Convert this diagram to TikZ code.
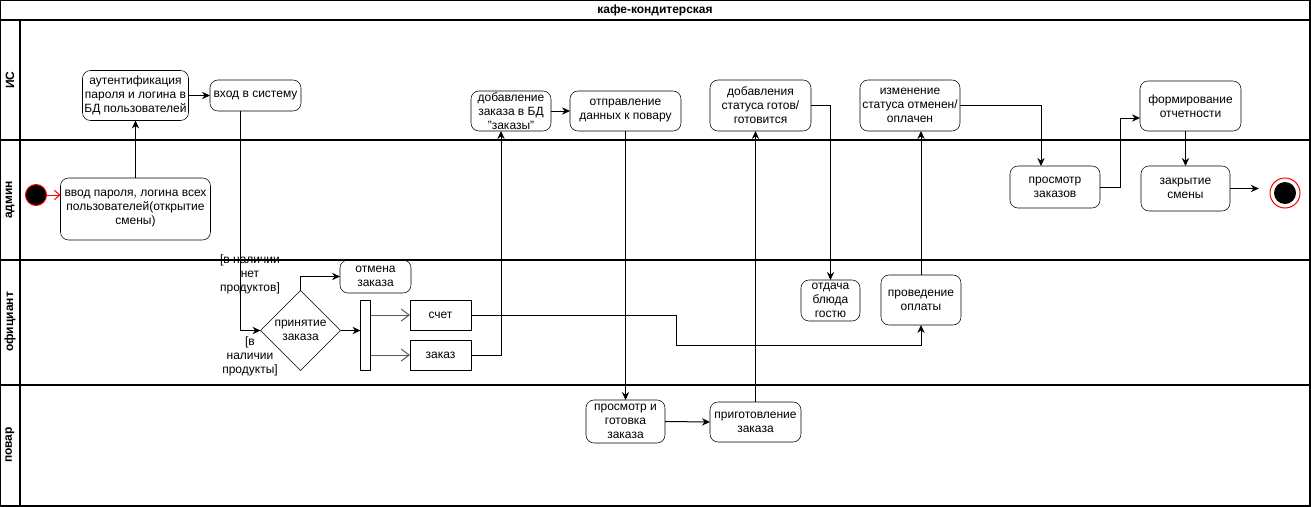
\documentclass[tikz,border=0pt]{standalone}
\usepackage{fontspec}
\setmainfont{Liberation Sans}
\usetikzlibrary{shapes.geometric,arrows.meta,calc}
\begin{document}
\begin{tikzpicture}[x=0.75pt,y=-0.75pt,
  sz/.style 2 args={minimum width=#1*0.75pt,minimum height=#2*0.75pt},
  act/.style={draw,rounded corners=6pt,align=center,inner sep=0pt,outer sep=0pt,font=\fontsize{9}{10.5}\selectfont},
  obj/.style={draw,align=center,inner sep=0pt,outer sep=0pt,font=\fontsize{9}{10.5}\selectfont},
  lane/.style={font=\bfseries\fontsize{9}{10.5}\selectfont,rotate=90},
  guard/.style={align=center,inner sep=0pt,font=\fontsize{9}{10.5}\selectfont},
  flow/.style={line width=0.75pt,-{Stealth[length=6pt,width=5.5pt]}},
  fork/.style={line width=0.75pt,draw=black!65,-{Straight Barb[length=6pt,width=9pt]}}]
\useasboundingbox (0,0) rectangle (1311,507);
% swimlanes
\draw[line width=1pt] (0.5,0.5) rectangle (1310,506);
\draw[line width=1pt] (0.5,20) -- (1310,20);
\draw[line width=1pt] (0.5,140) -- (1310,140);
\draw[line width=1pt] (0.5,260) -- (1310,260);
\draw[line width=1pt] (0.5,385) -- (1310,385);
\draw[line width=1pt] (20,20) -- (20,506);
\node[font=\bfseries\fontsize{9}{10.5}\selectfont] (title) at (655,10) {кафе-кондитерская};
\node[lane] (is) at (10,80) {ИС};
\node[lane] (admin) at (10,200) {админ};
\node[lane] (waiter) at (10,322) {официант};
\node[lane] (cook) at (10,445) {повар};
% nodes
\node[circle,fill=black,draw=red,line width=0.75pt,sz={21}{21}] (start) at (36,195) {};
\node[act,sz={150}{62}] (vvod) at (135.5,209) {ввод пароля, логина всех\\пользователей(открытие\\смены)};
\node[act,sz={106}{50}] (auth) at (135.5,95.5) {аутентификация\\пароля и логина в\\БД пользователей};
\node[act,sz={91}{31}] (vhod) at (255.5,95.5) {вход в систему};
\node[draw,diamond,aspect=1,align=center,inner sep=0pt,outer sep=0pt,sz={80}{80},font=\fontsize{9}{10.5}\selectfont] (dec) at (300.5,330.5) {принятие\\заказа};
\node[act,sz={71}{33}] (otmena) at (375.5,276.5) {отмена\\заказа};
\node[draw,inner sep=0pt,outer sep=0pt,sz={10}{70}] (bar) at (365.5,335) {};
\node[obj,sz={61}{30}] (schet) at (440.5,315) {счет};
\node[obj,sz={61}{30}] (zakaz) at (440.5,355) {заказ};
\node[act,sz={80}{40}] (dobavl) at (511,111) {добавление\\заказа в БД\\"заказы"};
\node[act,sz={111}{40}] (otprav) at (625.5,111) {отправление\\данных к повару};
\node[act,sz={79}{43}] (prosmg) at (625.5,421.5) {просмотр и\\готовка\\заказа};
\node[act,sz={91}{40}] (prigot) at (755.5,422) {приготовление\\заказа};
\node[act,sz={101}{51}] (status) at (760.5,105.5) {добавления\\статуса готов/\\готовится};
\node[act,sz={59}{41}] (otdacha) at (830.5,300.5) {отдача\\блюда\\гостю};
\node[act,sz={80}{50}] (oplata) at (921,300) {проведение\\оплаты};
\node[act,sz={100}{51}] (izmen) at (910,105.5) {изменение\\статуса отменен/\\оплачен};
\node[act,sz={90}{42}] (prosmz) at (1055,187) {просмотр\\заказов};
\node[act,sz={101}{50}] (formir) at (1190.5,106) {формирование\\отчетности};
\node[act,sz={89}{45}] (zakryt) at (1185.5,188.5) {закрытие\\смены};
\node[circle,draw=red,line width=0.75pt,fill=white,sz={30}{30}] (end) at (1285,193) {};
\node[circle,fill=black,sz={22}{22}] (endin) at (end) {};
\node[guard] (noprod) at (250,274) {[в наличии\\нет\\продуктов]};
\node[guard] (prod) at (250,356) {[в\\наличии\\продукты]};
\coordinate (bend) at (676,345);
% connectors
\draw[red,line width=0.75pt,-{Straight Barb[length=4pt,width=7pt]}] (start.east) -- (vvod.west |- start.east);
\draw[flow] (vvod.north) -- (auth.south);
\draw[flow] (auth.east) -- (vhod.west);
\draw[flow] ($(vhod.south)+(-15,0)$) |- (dec.west);
\draw[flow] (dec.north) |- (otmena.west);
\draw[flow] (dec.east) -- (bar.west |- dec.east);
\draw[fork] (bar.east |- schet) -- (schet.west);
\draw[fork] (bar.east |- zakaz) -- (zakaz.west);
\draw[flow] (zakaz.east) -| ($(dobavl.south)+(-10,0)$);
\draw[flow] (dobavl.east) -- (otprav.west);
\draw[flow] (otprav.south) -- (prosmg.north);
\draw[flow] (prosmg.east) -- (prigot.west);
\draw[flow] (prigot.north) -- (prigot.north |- status.south);
\draw[flow] (status.east) -| (otdacha.north);
\draw[flow] (schet.east) -| (bend) -| (oplata.south);
\draw[flow] (oplata.north) -- (oplata.north |- izmen.south);
\draw[flow] (izmen.east) -| ($(prosmz.north)+(-14,0)$);
\draw[flow] (prosmz.east) -| ($(formir.west)+(-20,12)$) -- ($(formir.west)+(0,12)$);
\draw[flow] (formir.south -| zakryt.north) -- (zakryt.north);
\draw[flow,shorten >=8pt] (zakryt.east) -- (end.west |- zakryt.east);
\end{tikzpicture}
\end{document}
